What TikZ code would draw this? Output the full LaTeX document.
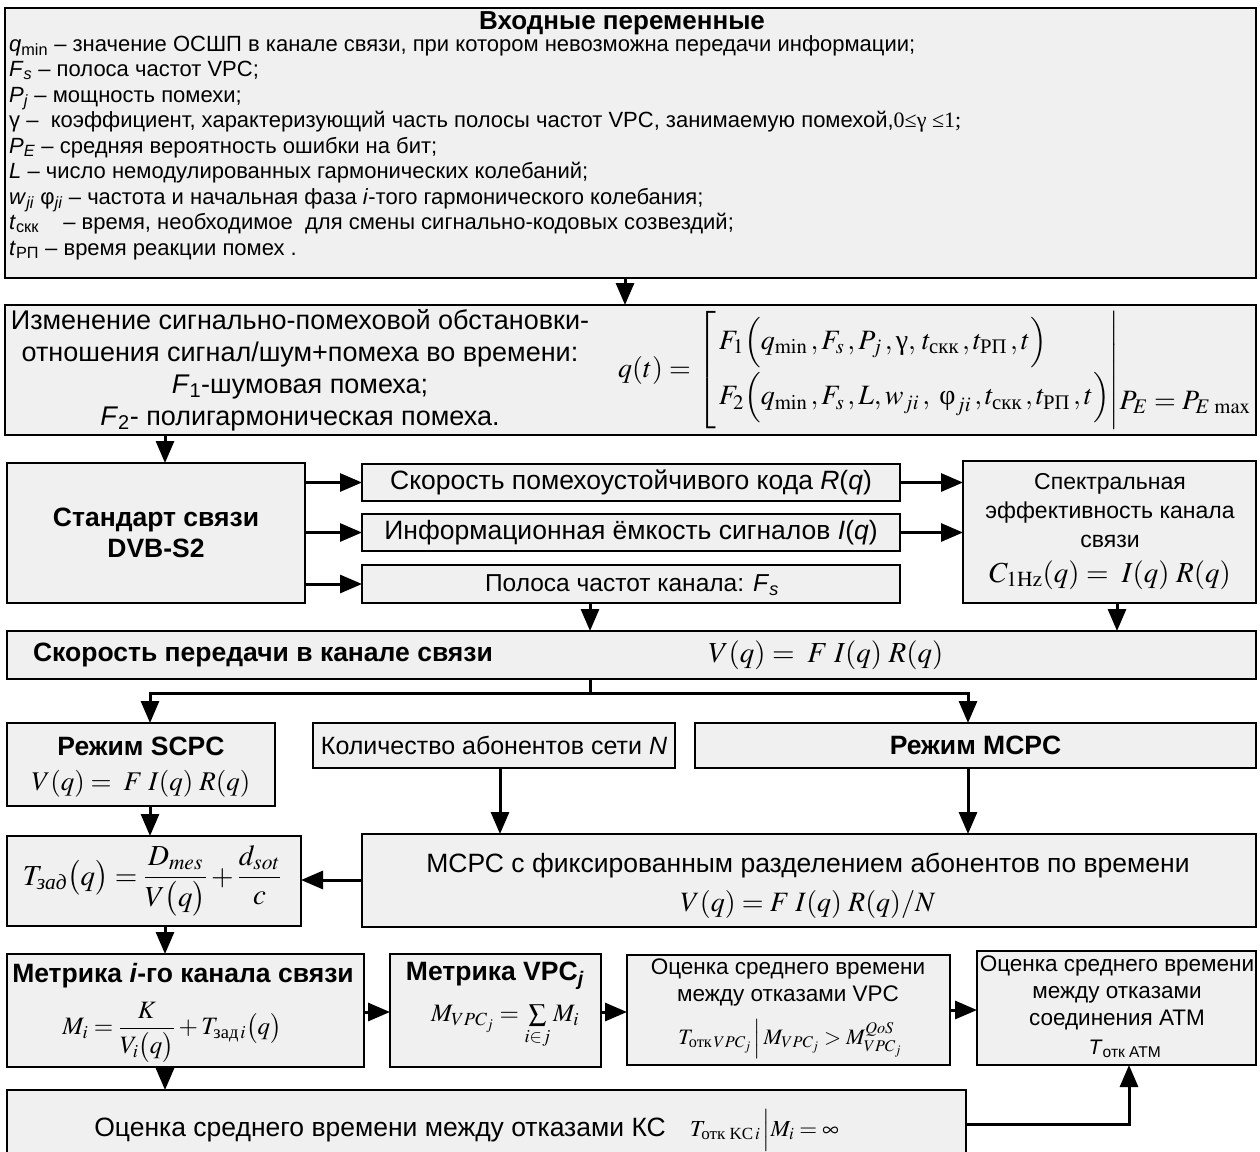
\documentclass[tikz,border=0pt]{standalone}
\usepackage{amsmath}
\usepackage{mathptmx}
\usepackage[no-math]{fontspec}
\setmainfont{Liberation Sans}
\newfontfamily\tnr{Liberation Serif}
\usetikzlibrary{arrows.meta}
\definecolor{boxfill}{RGB}{240,240,240}

% framed block given by its corners (x1,y1)-(x2,y2), y growing downwards
\newcommand\frameat[5]{\node[box, anchor=north west,
  minimum width={#4pt-#2pt}, minimum height={#5pt-#3pt}] (#1) at (#2,#3) {};}

\tikzset{
  box/.style={draw=black, line width=2.4pt, fill=boxfill, inner sep=0pt, outer sep=0pt},
  arr/.style={line width=3pt, -{Triangle[length=22pt,width=18pt]}},
  wire/.style={line width=3pt},
  tvar/.style={font=\fontsize{22}{25}\selectfont, inner sep=0pt, anchor=base west},
  tx/.style={font=\fontsize{26.5}{31}\selectfont, inner sep=0pt, align=center},
  txs/.style={font=\fontsize{23}{29}\selectfont, inner sep=0pt, align=center},
  tb/.style={font=\fontsize{26.5}{31}\selectfont\bfseries, inner sep=0pt, align=center},
  mth/.style={font=\fontsize{28}{32}\selectfont, inner sep=0pt},
  mths/.style={font=\fontsize{24}{28}\selectfont, inner sep=0pt},
}

\begin{document}
\begin{tikzpicture}[x=1pt,y=-1pt]
\fill[white] (0,0) rectangle (1260,1151);
\useasboundingbox (0,0) rectangle (1260,1151);

% ---------- blocks ----------
\frameat{inp}{5}{8}{1256}{278}
\frameat{cond}{5}{305}{1256}{435}
\frameat{dvb}{7}{463}{305}{603}
\frameat{rate}{362}{464}{900}{501}
\frameat{cap}{362}{514}{900}{551}
\frameat{band}{362}{565}{900}{603}
\frameat{spec}{963}{461}{1256}{603}
\frameat{speed}{7}{631}{1256}{679}
\frameat{scpc}{7}{723}{275}{806}
\frameat{subs}{313}{723}{675}{768}
\frameat{mcpc}{695}{723}{1256}{768}
\frameat{delay}{7}{836}{301}{926}
\frameat{tdma}{362}{834}{1256}{927}
\frameat{metr}{7}{954}{364}{1067}
\frameat{mvpc}{390}{954}{601}{1067}
\frameat{evpc}{627}{955}{950}{1065}
\frameat{atm}{977}{951}{1256}{1065}
\frameat{kc}{7}{1090}{966}{1162}

% ---------- input variables ----------
\node[tb, font=\fontsize{26}{30}\selectfont\bfseries] (inp-t) at (622,23) {Входные переменные};
\node[tvar] (v1) at (9,51)    {\textit{q}\textsubscript{min} – значение ОСШП в канале связи, при котором невозможна передачи информации;};
\node[tvar] (v2) at (9,76.5)  {\textit{F}\textsubscript{\textit{s}} – полоса частот VPC;};
\node[tvar] (v3) at (9,102)   {\textit{P}\textsubscript{\textit{j}} – мощность помехи;};
\node[tvar] (v4) at (9,127.5) {γ –\ \ коэффициент, характеризующий часть полосы частот VPC, занимаемую помехой,{\tnr 0≤γ ≤1;}};
\node[tvar] (v5) at (9,153)   {\textit{P}\textsubscript{\textit{E}} – средняя вероятность ошибки на бит;};
\node[tvar] (v6) at (9,178.5) {\textit{L} – число немодулированных гармонических колебаний;};
\node[tvar] (v7) at (9,204)   {\textit{w}\textsubscript{\textit{ji}} φ\textsubscript{\textit{ji}} – частота и начальная фаза \textit{i}-того гармонического колебания;};
\node[tvar] (v8) at (9,229.5) {\textit{t}\textsubscript{скк}\ \ \ \ – время, необходимое\ \ для смены сигнально-кодовых созвездий;};
\node[tvar] (v9) at (9,255)   {\textit{t}\textsubscript{РП} – время реакции помех .};

% ---------- signal/jamming situation ----------
\node[tx, font=\fontsize{27}{32}\selectfont] (cond-t) at (300,370)
  {Изменение сигнально-помеховой обстановки-\\
   отношения сигнал/шум+помеха во времени:\\
   \textit{F}\textsubscript{1}-шумовая помеха;\\
   \textit{F}\textsubscript{2}- полигармоническая помеха.};
\node[mth, anchor=west] (qt) at (618,370)
  {$q(t) = \left[\begin{array}{@{\,}l@{}}
   F_1\Bigl(q_{\min}\,, F_s\,, P_j\,, \text{\tnr γ},\, t_{\text{\tnr скк}}\,, t_{\text{\tnr РП}}\,, t\Bigr)\\[14pt]
   F_2\Bigl(q_{\min}\,, F_s\,, L, w_{ji}\,,\; \text{\tnr φ}_{ji}\,, t_{\text{\tnr скк}}\,, t_{\text{\tnr РП}}\,, t\Bigr)
   \end{array}\right|$};
\node[mth, anchor=base west] (pe) at (qt.east |- 0,409) {$P_E = P_{E\,\max}$};

% ---------- DVB-S2 and channel parameters ----------
\node[tb] (dvb-t) at (dvb.center) {Стандарт связи\\DVB-S2};
\node[tx] (rate-t) at (rate.center) {Скорость помехоустойчивого кода \textit{R}(\textit{q})};
\node[tx] (cap-t) at (cap.center) {Информационная ёмкость сигналов \textit{I}(\textit{q})};
\node[txs, font=\fontsize{24.5}{29}\selectfont] (band-t) at (632,585) {Полоса частот канала: \textit{F}\textsubscript{\textit{s}}};
\node[txs] (spec-t) at (1110,511) {Спектральная\\эффективность канала\\связи};
\node[mth, font=\fontsize{29}{33}\selectfont] (spec-f) at (1110,575) {$C_{\mathrm{1Hz}}(q) = \; I(q)\; R(q)$};

% ---------- transmission rate ----------
\node[tb] (speed-t) at (263,655) {Скорость передачи в канале связи};
\node[mth, font=\fontsize{29}{33}\selectfont] (speed-f) at (826,655) {$V(q) = \; F\; I(q)\; R(q)$};

% ---------- access modes ----------
\node[tb] (scpc-t) at (141,746) {Режим SCPC};
\node[mth, font=\fontsize{27}{31}\selectfont] (scpc-f) at (141,784) {$V(q) = \; F\; I(q)\; R(q)$};
\node[txs, font=\fontsize{25}{29}\selectfont] (subs-t) at (subs.center) {Количество абонентов сети \textit{N}};
\node[tb] (mcpc-t) at (mcpc.center) {Режим MCPC};
\node[mth, font=\fontsize{29}{33}\selectfont] (delay-f) at (152,881)
  {$T_{\text{\tnr\itshape зад}}\bigl(q\bigr) = \dfrac{D_{mes}}{V\bigl(q\bigr)} + \dfrac{d_{sot}}{c}$};
\node[tx] (tdma-t) at (808,866) {МСРС с фиксированным разделением абонентов по времени};
\node[mth] (tdma-f) at (808,904) {$V(q) = F\; I(q)\; R(q)/N$};

% ---------- metrics and failure estimates ----------
\node[tb] (metr-t) at (183,976) {Метрика \textit{i}-го канала связи};
\node[mths, font=\fontsize{25}{29}\selectfont] (metr-f) at (172,1032)
  {$M_i = \dfrac{K}{V_i\bigl(q\bigr)} + T_{\text{\tnr зад}\,i}\bigl(q\bigr)$};
\node[tb] (mvpc-t) at (495,976) {Метрика VPC\textsubscript{\textit{j}}};
\node[mths, font=\fontsize{25}{29}\selectfont] (mvpc-f) at (505,1027) {$M_{VPC_j} = \sum\limits_{i\in j} M_i$};
\node[txs, font=\fontsize{22.5}{27}\selectfont] (evpc-t) at (788,982) {Оценка среднего времени\\между отказами VPC};
\node[mths, font=\fontsize{22}{26}\selectfont] (evpc-f) at (790,1039)
  {$T_{\text{\tnr отк}\,VPC_j}\,\Big|\,M_{VPC_j} > M_{VPC_j}^{QoS}$};
\node[txs, font=\fontsize{22.5}{27}\selectfont] (atm-t) at (1117,993) {Оценка среднего времени\\между отказами\\соединения ATM};
\node[txs, font=\fontsize{21}{24}\selectfont] (atm-f) at (1125,1049) {\textit{T}\textsubscript{отк ATM}};
\node[tx, anchor=base east] (kc-t) at (666,1136) {Оценка среднего времени между отказами КС};
\node[mths, font=\fontsize{23}{27}\selectfont, anchor=base west] (kc-f) at (690,1136) {$T_{\text{\tnr отк KC}\,i}\,\Big|M_i = \infty$};

% ---------- connectors ----------
\draw[arr] (inp.south -| 625,0) -- (cond.north -| 625,0);
\draw[arr] (cond.south -| 165,0) -- (dvb.north -| 165,0);
\draw[arr] (dvb.east |- rate.west) -- (rate.west);
\draw[arr] (dvb.east |- cap.west) -- (cap.west);
\draw[arr] (dvb.east |- band.west) -- (band.west);
\draw[arr] (rate.east) -- (spec.west |- rate.east);
\draw[arr] (cap.east) -- (spec.west |- cap.east);
\draw[arr] (band.south -| 590,0) -- (speed.north -| 590,0);
\draw[arr] (spec.south -| 1117,0) -- (speed.north -| 1117,0);
\coordinate (fork) at (590,693);
\draw[wire] (speed.south -| fork) -- (fork);
\draw[arr] (fork) -| (scpc.north -| 150,0);
\draw[arr] (fork) -| (mcpc.north -| 968,0);
\draw[arr] (scpc.south -| 150,0) -- (delay.north -| 150,0);
\draw[arr] (subs.south -| 500,0) -- (tdma.north -| 500,0);
\draw[arr] (mcpc.south -| 968,0) -- (tdma.north -| 968,0);
\draw[arr] (tdma.west |- 0,880) -- (delay.east |- 0,880);
\draw[arr] (delay.south -| 165,0) -- (metr.north -| 165,0);
\draw[arr] (metr.east |- 0,1012) -- (mvpc.west |- 0,1012);
\draw[arr] (mvpc.east |- 0,1012) -- (evpc.west |- 0,1012);
\draw[arr] (evpc.east |- 0,1010) -- (atm.west |- 0,1010);
\draw[arr] (metr.south -| 165,0) -- (kc.north -| 165,0);
\draw[arr] (kc.east |- 0,1124) -| (atm.south -| 1129,0);
\end{tikzpicture}
\end{document}
